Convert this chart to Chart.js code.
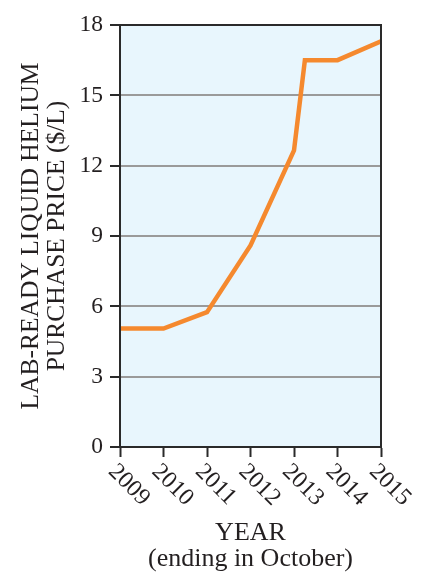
<!DOCTYPE html>
<html>
<head>
<meta charset="utf-8">
<script src="https://cdn.jsdelivr.net/npm/chart.js@4"></script>
<style>
html,body{margin:0;padding:0;background:#ffffff;}
canvas{display:block;}
</style>
</head>
<body>
<canvas id="c" width="430" height="586"></canvas>
<script>
// ---- data ----
const yearTicks = ['2009', '2010', '2011', '2012', '2013', '2014', '2015'];
const pointYears = [2009, 2010, 2011, 2012, 2013, 2013.25, 2014, 2015];
const priceValues = [5.05, 5.05, 5.75, 8.6, 12.65, 16.5, 16.5, 17.3];
const yTitleLines = ['LAB-READY LIQUID HELIUM', 'PURCHASE PRICE ($/L)'];
const xTitleLines = ['YEAR', '(ending in October)'];

// ---- styles ----
const FONT = "'Liberation Serif', 'DejaVu Serif', serif";
const INK = '#231f20';
const FRAME = '#2a2a2a';
const GRID = '#9a9a9a';
const PLOT_BG = '#e8f6fd';
const LINE = '#f5892e';

const points = pointYears.map((x, i) => ({ x: x, y: priceValues[i] }));

const framePlugin = {
  id: 'framePlugin',
  beforeDraw(chart) {
    const a = chart.chartArea, ctx = chart.ctx;
    ctx.save();
    ctx.fillStyle = PLOT_BG;
    ctx.fillRect(a.left, a.top, a.right - a.left, a.bottom - a.top);
    ctx.restore();
  },
  afterDatasetsDraw(chart) {
    const a = chart.chartArea, ctx = chart.ctx;
    ctx.save();
    ctx.strokeStyle = FRAME;
    ctx.lineWidth = 2;
    ctx.strokeRect(a.left, a.top, a.right - a.left, a.bottom - a.top);
    // rotated year labels (clockwise), positioned by the x scale
    const xs = chart.scales.x;
    ctx.fillStyle = INK;
    ctx.font = "24px " + FONT;
    ctx.textAlign = 'left';
    ctx.textBaseline = 'middle';
    yearTicks.forEach(lbl => {
      const px = xs.getPixelForValue(Number(lbl));
      ctx.save();
      ctx.translate(px - 8, a.bottom + 21);
      ctx.rotate(Math.PI / 4);
      ctx.fillText(lbl, 0, 0);
      ctx.restore();
    });
    ctx.restore();
  }
};

new Chart(document.getElementById('c'), {
  type: 'line',
  data: {
    datasets: [{
      data: points,
      borderColor: LINE,
      borderWidth: 4.5,
      borderJoinStyle: 'miter',
      borderCapStyle: 'butt',
      pointRadius: 0,
      tension: 0,
      fill: false
    }]
  },
  options: {
    responsive: false,
    animation: false,
    devicePixelRatio: 1,
    layout: { padding: { top: 25, right: 49, left: 0, bottom: 0 } },
    plugins: { legend: { display: false }, tooltip: { enabled: false } },
    scales: {
      x: {
        type: 'linear',
        min: 2009,
        max: 2015,
        ticks: { display: false, stepSize: 1 },
        grid: { drawOnChartArea: false, drawTicks: true, tickLength: 10, tickColor: FRAME, tickWidth: 2, color: FRAME },
        border: { display: true, color: FRAME, width: 2 },
        title: {
          display: true,
          text: xTitleLines,
          color: INK,
          font: { family: FONT, size: 26, lineHeight: 26 / 26 },
          padding: { top: 0, bottom: 14 }
        },
        afterFit(s) { s.height = 139; }
      },
      y: {
        min: 0,
        max: 18,
        ticks: { stepSize: 3, color: INK, padding: 7, font: { family: FONT, size: 23.5 } },
        grid: { color: GRID, lineWidth: 2, tickColor: FRAME, tickWidth: 2, tickLength: 10 },
        border: { display: true, color: FRAME, width: 2 },
        title: {
          display: true,
          text: yTitleLines,
          color: INK,
          font: { family: FONT, size: 25.5, lineHeight: 26 / 25.5 },
          padding: { top: 18, bottom: 0 }
        },
        afterFit(s) { s.width = 120; }
      }
    }
  },
  plugins: [framePlugin]
});
</script>
</body>
</html>
